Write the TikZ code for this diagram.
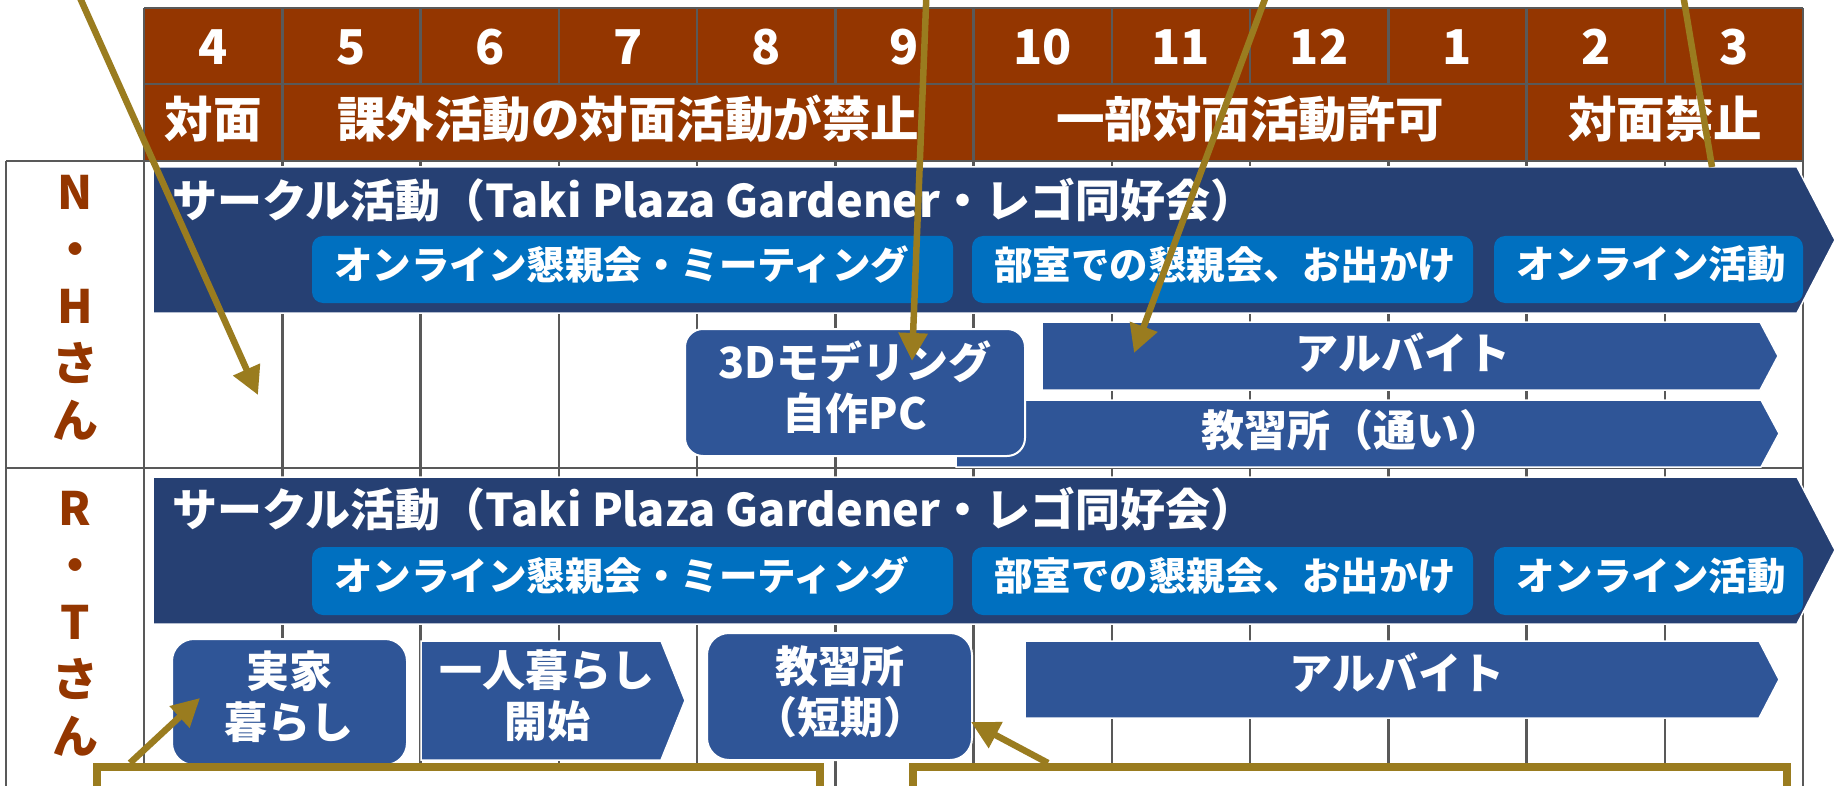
\documentclass[tikz,border=0pt]{standalone}
\usepackage{fontspec}
\setmainfont{Noto Sans CJK JP}
\usetikzlibrary{arrows.meta,calc}
\definecolor{hdr}{RGB}{148,54,0}
\definecolor{navy}{RGB}{38,64,115}
\definecolor{sky}{RGB}{0,112,192}
\definecolor{midb}{RGB}{47,85,151}
\definecolor{gold}{RGB}{154,124,31}
\definecolor{gridc}{RGB}{89,89,89}
\begin{document}
\begin{tikzpicture}[x=1pt,y=-1pt,
  gl/.style={gridc,line width=2.5pt},
  hd/.style={text=white,font=\fontsize{48}{48}\selectfont\bfseries,inner sep=0pt},
  st/.style={text=white,font=\fontsize{48.5}{48.5}\selectfont\bfseries,inner sep=0pt},
  lab/.style={text=hdr,font=\fontsize{46}{57}\selectfont\bfseries,align=center,inner sep=0pt},
  ttl/.style={text=white,font=\fontsize{45}{45}\selectfont\bfseries,anchor=west,inner sep=0pt},
  subbox/.style={fill=sky,rounded corners=11pt,inner sep=0pt},
  subt/.style={text=white,font=\fontsize{38.5}{38.5}\selectfont\bfseries,anchor=west,inner sep=0pt},
  midt/.style={text=white,font=\fontsize{43}{51}\selectfont\bfseries,align=center,inner sep=0pt},
  bigarrow/.style={fill=navy,draw=white,line width=1.5pt},
  midarrow/.style={fill=midb,draw=white,line width=1.5pt},
  rbox/.style={fill=midb,draw=white,line width=2pt,inner sep=0pt},
  conn/.style={gold,line width=6.5pt,-{Triangle[length=28pt,width=28pt]}},
  plainconn/.style={gold,line width=6.5pt},
  callout/.style={draw=gold,line width=8pt,fill=white,inner sep=0pt}]
\useasboundingbox (0,0) rectangle (1835,786);
\clip (0,0) rectangle (1835,786);
\fill[white] (0,0) rectangle (1835,786);
% header
\fill[hdr] (144,8) rectangle (1803,161);
\foreach \i in {0,...,12} \draw[gl] ({144+138.25*\i},8) -- ({144+138.25*\i},84);
\foreach \i in {0,1,6,10,12} \draw[gl] ({144+138.25*\i},84) -- ({144+138.25*\i},161);
\foreach \i in {0,...,12} \draw[gl] ({144+138.25*\i},161) -- ({144+138.25*\i},786);
\draw[gl] (144,8) -- (1803,8);
\draw[gl] (144,84) -- (1803,84);
\draw[gl] (6,161) -- (1803,161);
\draw[gl] (6,468) -- (1803,468);
\draw[gl] (6,161) -- (6,786);
\foreach \m [count=\i from 0] in {4,5,6,7,8,9,10,11,12,1,2,3}
  \node[hd] (m\i) at ({144+138.25*\i+69.125},47) {\m};
\node[st] (s1) at (213,119) {対面};
\node[st] (s2) at (628,119) {課外活動の対面活動が禁止};
\node[st] (s3) at (1250,119) {一部対面活動許可};
\node[st] (s4) at (1665,119) {対面禁止};
% row labels
\node[lab] (nh) at (75,308) {N\\・\\H\\さ\\ん};
\node[lab] (rt) at (75,624) {R\\・\\T\\さ\\ん};
% N.H row
\draw[bigarrow] (153,167) -- (1797,167) -- (1835,240) -- (1797,313) -- (153,313) -- cycle;
\coordinate (nhtop) at (1712,167);
\node[ttl] (nht) at (172,200) {サークル活動（Taki Plaza Gardener・レゴ同好会）};
\node[subbox,minimum width=641pt,minimum height=67pt] (nhs1) at (632.5,269.5) {};
\node[subbox,minimum width=501pt,minimum height=67pt] (nhs2) at (1222.5,269.5) {};
\node[subbox,minimum width=309pt,minimum height=67pt] (nhs3) at (1648.5,269.5) {};
\node[subt] (nhs1t) at (334,264.5) {オンライン懇親会・ミーティング};
\node[subt] (nhs2t) at (994,264.5) {部室での懇親会、お出かけ};
\node[subt] (nhs3t) at (1516,264.5) {オンライン活動};
\draw[midarrow] (1042,322) -- (1760,322) -- (1778,356) -- (1760,390) -- (1042,390) -- cycle;
\coordinate (arbnw) at (1042,322);
\node[midt] (nha) at (1403,353) {アルバイト};
\draw[midarrow] (956,400) -- (1761,400) -- (1779,433.5) -- (1761,467) -- (956,467) -- cycle;
\node[midt] (nhk) at (1352,430) {教習所（通い）};
\node[rbox,rounded corners=18pt,minimum width=340pt,minimum height=127pt] (pc) at (855,392.5) {};
\node[midt] (pct) at (855,387) {3Dモデリング\\自作PC};
% R.T row
\draw[bigarrow] (153,477) -- (1797,477) -- (1835,550) -- (1797,624) -- (153,624) -- cycle;
\node[ttl] (rtt) at (172,509) {サークル活動（Taki Plaza Gardener・レゴ同好会）};
\node[subbox,minimum width=641pt,minimum height=68pt] (rts1) at (632.5,581) {};
\node[subbox,minimum width=501pt,minimum height=68pt] (rts2) at (1222.5,581) {};
\node[subbox,minimum width=309pt,minimum height=68pt] (rts3) at (1648.5,581) {};
\node[subt] (rts1t) at (334,576) {オンライン懇親会・ミーティング};
\node[subt] (rts2t) at (994,576) {部室での懇親会、お出かけ};
\node[subt] (rts3t) at (1516,576) {オンライン活動};
\node[rbox,rounded corners=22pt,minimum width=235pt,minimum height=126pt] (jk) at (289.5,702) {};
\node[midt] (jkt) at (289,697) {実家\\暮らし};
\draw[midarrow] (421,641) -- (661,641) -- (685,700.5) -- (661,760) -- (421,760) -- cycle;
\node[midt] (hit) at (547,696) {一人暮らし\\開始};
\node[rbox,rounded corners=22pt,minimum width=265pt,minimum height=127pt] (ks) at (839.5,696.5) {};
\node[midt] (kst) at (840,692) {教習所\\（短期）};
\draw[midarrow] (1025,641) -- (1759,641) -- (1779,679.5) -- (1759,718) -- (1025,718) -- cycle;
\node[midt] (rta) at (1397,673) {アルバイト};
% callouts
\node[callout,minimum width=723pt,minimum height=70pt] (cl) at (458.5,802) {};
\node[callout,minimum width=874pt,minimum height=70pt] (cr) at (1350,802) {};
% connectors
\coordinate (o1) at (72,-20);
\coordinate (t1) at (258,395);
\coordinate (o2) at (927,-20);
\coordinate (o3) at (1272,-20);
\coordinate (o4) at (1680.6,-20);
\draw[conn] (o1) -- (t1);
\draw[conn] (o2) -- ($(pc.north)+(57,33)$);
\draw[conn] (o3) -- ($(arbnw)+(92,31)$);
\draw[plainconn] (o4) -- (nhtop);
\draw[conn] ($(cl.north west)+(37,0)$) -- ($(jk.south west)+(29,-68)$);
\draw[conn] ($(cr.north west)+(139,0)$) -- ($(ks.east)+(-2,25.5)$);
\end{tikzpicture}
\end{document}
